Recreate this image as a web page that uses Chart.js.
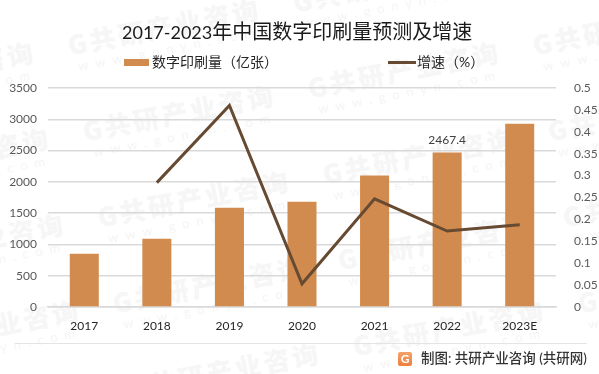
<!DOCTYPE html>
<html>
<head>
<meta charset="utf-8">
<script src="https://cdn.jsdelivr.net/npm/chart.js@4"></script>
<style>
  html,body{margin:0;padding:0;background:#fff;}
  #wrap{position:relative;width:599px;height:374px;overflow:hidden;font-family:Lato,"Noto Sans CJK SC",sans-serif;}
  #marks{position:absolute;left:0;top:0;width:599px;height:374px;}
  .mark{position:absolute;transform-origin:0 0;transform:rotate(-11deg);white-space:nowrap;color:#f6f6f6;}
  .mark b{display:block;font:900 26px/30px "Noto Sans CJK SC";letter-spacing:3px;}
  .mark i{display:block;font:normal 13px/16px Lato;letter-spacing:7px;padding-left:6px;color:#f5f5f5;}
  #c{position:absolute;left:0;top:0;}
  #title{position:absolute;left:122px;top:18px;font-size:20px;line-height:26px;color:#1a1a1a;white-space:nowrap;}
  #title span{font-size:18px;}
  .leg{position:absolute;top:52px;font-size:14px;line-height:20px;color:#262626;white-space:nowrap;}
  .sw{position:absolute;}
  #rule{position:absolute;left:15px;top:343px;width:572px;height:1px;background:#e4e4e4;}
  #logo{position:absolute;left:398px;top:352px;width:14px;height:14px;border-radius:2px;background:linear-gradient(#f2a36b,#ef7f3c);color:#fff;font:700 12px/14px Lato;text-align:center;}
  #src{position:absolute;left:421px;top:349px;font-size:13.5px;line-height:19px;color:#333;white-space:nowrap;font-weight:500;}
</style>
</head>
<body>
<div id="wrap">
  <div id="marks"></div>
  <canvas id="c" width="599" height="374"></canvas>
  <div id="title"></div>
  <div class="sw" style="left:124px;top:59px;width:25px;height:7px;background:#d18b4f"></div>
  <div class="leg" style="left:152px">数字印刷量（亿张）</div>
  <div class="sw" style="left:388px;top:61px;width:28px;height:3px;background:#664a32"></div>
  <div class="leg" style="left:417px">增速（%）</div>
  <div id="rule"></div>
  <div id="logo">G</div>
  <div id="src">制图: 共研产业咨询 (共研网)</div>
</div>
<script>
const titleYears = "2017-2023"
const titleText = "年中国数字印刷量预测及增速"
const categories = ["2017","2018","2019","2020","2021","2022","2023E"]
const printVolume = [852,1091,1587,1683,2100,2467.4,2930]
const growthRate = [null,0.284,0.46,0.053,0.247,0.1735,0.188]
const labelledBar = "2022"

document.querySelector('#title').innerHTML = '<span>'+titleYears+'</span>'+titleText

// watermark lattice behind the chart
const marks = document.querySelector('#marks')
for(let i=-2;i<4;i++){
  for(let j=-1;j<6;j++){
    let m = document.createElement('div')
    m.className = 'mark'
    m.style.left = (65+i*225+j*15)+'px'
    m.style.top = (30-i*43+j*86)+'px'
    m.innerHTML = '<b>G共研产业咨询</b><i>www.gonyn.com</i>'
    marks.appendChild(m)
  }
}

const barLabel = {
  id:'barLabel',
  afterDatasetsDraw(chart){
    const i = categories.indexOf(labelledBar)
    const bar = chart.getDatasetMeta(1).data[i]
    const ctx = chart.ctx
    ctx.save()
    ctx.font = '12px Lato, "Noto Sans CJK SC"'
    ctx.fillStyle = '#404040'
    ctx.textAlign = 'center'
    ctx.textBaseline = 'bottom'
    ctx.fillText(String(printVolume[i]), bar.x, bar.y-6)
    ctx.restore()
  }
}

new Chart(document.querySelector('#c').getContext('2d'), {
  type:'bar',
  data:{
    labels:categories,
    datasets:[
      {type:'line',label:'增速（%）',data:growthRate,yAxisID:'y2',borderColor:'#664a32',borderWidth:3,pointRadius:0,tension:0,spanGaps:false,order:0},
      {type:'bar',label:'数字印刷量（亿张）',data:printVolume,yAxisID:'y',backgroundColor:'#d18b4f',barPercentage:0.4,categoryPercentage:1,order:1}
    ]
  },
  options:{
    responsive:false,
    animation:false,
    layout:{padding:{top:88}},
    plugins:{
      legend:{display:false},
      tooltip:{enabled:false}
    },
    scales:{
      x:{
        grid:{display:false},
        border:{color:'#d9d9d9',width:1.5},
        ticks:{color:'#262626',font:{family:'Lato, "Noto Sans CJK SC"',size:12},padding:4,maxRotation:0},
        afterFit(s){s.height=67}
      },
      y:{
        position:'left',min:0,max:3500,
        grid:{color:'#d9d9d9',lineWidth:1.5,drawTicks:false},
        border:{display:false},
        ticks:{stepSize:500,color:'#595959',font:{family:'Lato, "Noto Sans CJK SC"',size:12},padding:11,callback:v=>String(v)},
        afterFit(s){s.width=48}
      },
      y2:{
        position:'right',min:0,max:0.5,
        grid:{display:false},
        border:{display:false},
        ticks:{stepSize:0.05,color:'#595959',font:{family:'Lato, "Noto Sans CJK SC"',size:12},padding:10,callback:v=>String(Math.round(v*100)/100)},
        afterFit(s){s.width=43}
      }
    }
  },
  plugins:[barLabel]
})
</script>
</body>
</html>
